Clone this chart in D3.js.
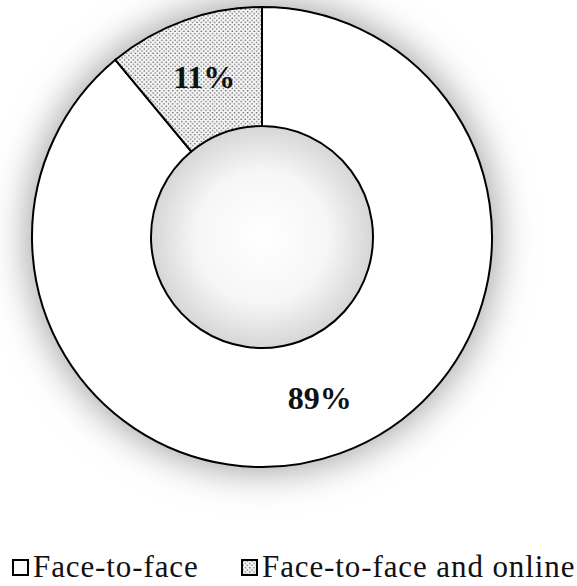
<!DOCTYPE html>
<html>
<head>
<meta charset="utf-8">
<script src="https://cdn.jsdelivr.net/npm/d3@7"></script>
<style>
  html, body { margin: 0; padding: 0; background: #fff; }
  svg { display: block; }
</style>
</head>
<body>
<svg id="chart" width="577" height="586"></svg>
<script>
// Data
const categories = ["Face-to-face", "Face-to-face and online"];
const values = [89, 11];
const valueLabels = ["89%", "11%"];

const W = 577, H = 586;
const cx = 262, cy = 237;
const outerR = 230, innerR = 111;

const svg = d3.select("#chart");
const defs = svg.append("defs");

// dotted pattern
const pat = defs.append("pattern")
  .attr("id", "dots")
  .attr("patternUnits", "userSpaceOnUse")
  .attr("width", 4.4).attr("height", 4.4);
pat.append("rect").attr("width", 4.4).attr("height", 4.4).attr("fill", "#f6f6f6");
pat.append("circle").attr("cx", 1.1).attr("cy", 1.1).attr("r", 0.75).attr("fill", "#555");
pat.append("circle").attr("cx", 3.3).attr("cy", 3.3).attr("r", 0.75).attr("fill", "#555");

// shadow blur
const blur = defs.append("filter").attr("id", "glow")
  .attr("x", "-40%").attr("y", "-40%").attr("width", "180%").attr("height", "180%");
blur.append("feGaussianBlur").attr("stdDeviation", 18);

// inner hole gradient
const grad = defs.append("radialGradient").attr("id", "hole")
  .attr("cx", "50%").attr("cy", "50%").attr("r", "50%");
grad.append("stop").attr("offset", "0%").attr("stop-color", "#ffffff");
grad.append("stop").attr("offset", "60%").attr("stop-color", "#f6f6f6");
grad.append("stop").attr("offset", "100%").attr("stop-color", "#d6d6d6");

const fills = d3.scaleOrdinal().domain(categories).range(["#ffffff", "url(#dots)"]);

const g = svg.append("g").attr("transform", `translate(${cx},${cy})`);

// glow behind ring
g.append("circle").attr("r", outerR + 6).attr("fill", "#a8a8a8").attr("filter", "url(#glow)");

// hole
g.append("circle").attr("r", innerR).attr("fill", "url(#hole)");

const pie = d3.pie().sort(null).value(d => d)(values);
const arc = d3.arc().innerRadius(innerR).outerRadius(outerR);

g.selectAll("path.slice").data(pie).join("path")
  .attr("class", "slice")
  .attr("d", arc)
  .attr("fill", (d, i) => fills(categories[i]))
  .attr("stroke", "#000")
  .attr("stroke-width", 2);

g.selectAll("text.lbl").data(pie).join("text")
  .attr("class", "lbl")
  .attr("transform", d => `translate(${arc.centroid(d)})`)
  .attr("text-anchor", "middle")
  .attr("dy", "0.35em")
  .attr("font-family", "'Liberation Serif', 'Times New Roman', serif")
  .attr("font-weight", "bold")
  .attr("font-size", 32)
  .attr("fill", "#111")
  .text((d, i) => valueLabels[i]);

// legend
const legendX = [13, 242];
const leg = svg.append("g");
categories.forEach((c, i) => {
  const lg = leg.append("g").attr("transform", `translate(${legendX[i]},560)`);
  lg.append("rect").attr("x", 0).attr("y", 0).attr("width", 15).attr("height", 15)
    .attr("fill", fills(c)).attr("stroke", "#000").attr("stroke-width", 2);
  lg.append("text").attr("x", 20).attr("y", 17)
    .attr("font-family", "'Liberation Serif', 'Times New Roman', serif")
    .attr("font-size", 31)
    .attr("letter-spacing", 0.9)
    .attr("fill", "#111")
    .text(c);
});
</script>
</body>
</html>
